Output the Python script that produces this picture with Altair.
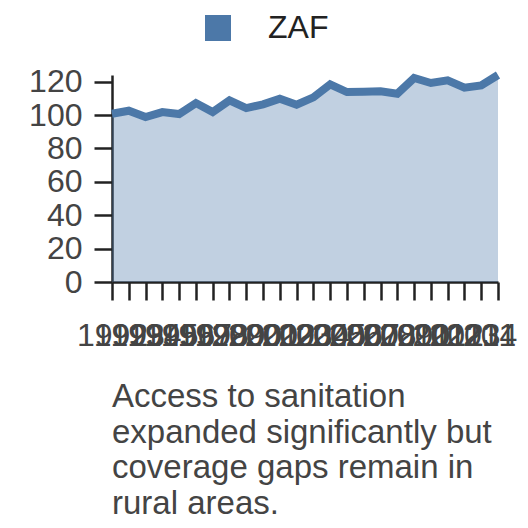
import altair as alt
import pandas as pd

years = ["1992", "1993", "1994", "1995", "1996", "1997", "1998", "1999",
         "2000", "2001", "2002", "2003", "2004", "2005", "2006", "2007",
         "2008", "2009", "2010", "2011", "2012", "2013", "2014", "2015"]
values = [100.8, 102.6, 98.8, 101.8, 100.6, 107.2, 101.8, 108.8,
          104.2, 106.4, 109.8, 106.2, 110.6, 118.4, 113.8, 114.0,
          114.2, 112.8, 122.2, 119.2, 120.8, 116.4, 117.8, 124.0]
countries = ["ZAF"] * len(years)
caption = ["Access to sanitation", "expanded significantly but",
           "coverage gaps remain in", "rural areas."]

df = pd.DataFrame({"year": years, "value": values, "country": countries})

FONT = "Liberation Sans"

base = alt.Chart(df).encode(
    x=alt.X("year:O", scale=alt.Scale(padding=0),
            axis=alt.Axis(title=None, labelAngle=0, labelOverlap=False,
                          labelFontSize=32, labelFont=FONT, labelColor="#444",
                          tickSize=18, tickWidth=2.5, tickColor="#222",
                          domainColor="#222", domainWidth=2.5,
                          labelPadding=20, grid=False)),
    y=alt.Y("value:Q", scale=alt.Scale(nice=False, zero=True),
            axis=alt.Axis(title=None, labelFontSize=32, labelFont=FONT,
                          labelColor="#444", tickSize=18, tickWidth=2.5,
                          tickColor="#222", domainColor="#222", domainWidth=2.5,
                          labelPadding=12, grid=False, values=[0, 20, 40, 60, 80, 100, 120])),
    color=alt.Color("country:N",
                    scale=alt.Scale(domain=["ZAF"], range=["#4c78a8"]),
                    legend=alt.Legend(title=None, orient="none", legendX=90, legendY=-63,
                                      symbolType="square", symbolSize=676,
                                      symbolOpacity=1, symbolStrokeWidth=0,
                                      labelFontSize=32, labelFont=FONT,
                                      labelColor="#222", labelOffset=34,
                                      padding=0)),
)

area = base.mark_area(opacity=0.35)
line = base.mark_line(strokeWidth=8)

chart = alt.layer(area, line).properties(
    width=386,
    height=207,
    autosize=alt.AutoSizeParams(type="none"),
    padding={"left": 104, "top": 67, "right": 19, "bottom": 240},
    title=alt.TitleParams(caption, orient="bottom", anchor="start", frame="group",
                          fontSize=33, font=FONT, fontWeight="normal",
                          color="#444", lineHeight=35.7, offset=30),
).configure_view(stroke=None)

chart.save("out.html", embed_options={"renderer": "svg", "actions": False})
